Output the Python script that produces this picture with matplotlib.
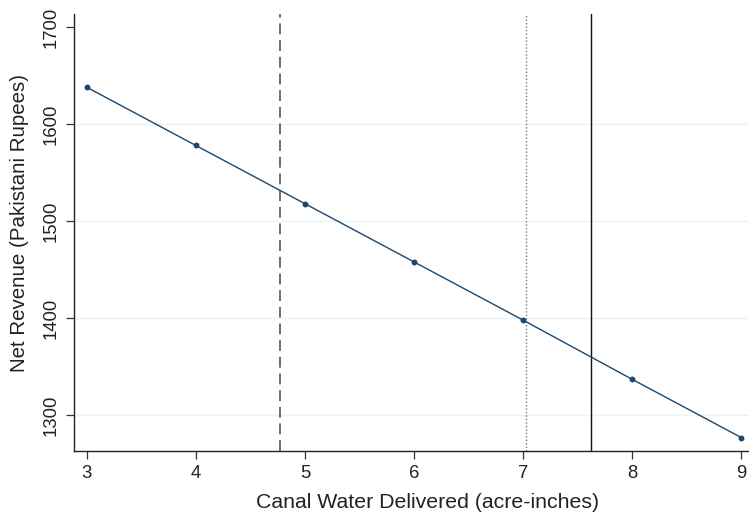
import matplotlib
matplotlib.use("Agg")
import matplotlib.pyplot as plt

plt.rcParams['font.family'] = ['Liberation Sans', 'DejaVu Sans']

water = [3, 4, 5, 6, 7, 8, 9]
revenue = [1638, 1578, 1518, 1458, 1398, 1337, 1277]
x_ticks = [3, 4, 5, 6, 7, 8, 9]
y_ticks = [1300, 1400, 1500, 1600, 1700]
grid_vals = [1300, 1400, 1500, 1600]
dashed_x = 4.77
dotted_x = 7.03
solid_x = 7.62

fig = plt.figure(figsize=(7.49, 5.15), dpi=100)
ax = fig.add_axes([74/749, 1-451/515, (749-74)/749, (451-14)/515])

for g in grid_vals:
    ax.axhline(g, color='#eaf2f3', lw=1.0, zorder=0)

ax.plot(water, revenue, color='#1a476f', lw=1.0, marker='o', ms=3.2, zorder=3)

ax.axvline(dashed_x, color='#555555', lw=1.2, ls=(0, (6.5, 3.5)), zorder=2)
ax.axvline(dotted_x, color='#777777', lw=1.0, ls=(0, (1, 1.5)), zorder=2)
ax.axvline(solid_x, color='#111111', lw=1.0, zorder=2)

ax.set_xlim(2.884, 9.07)
ax.set_ylim(1263.2, 1713.4)
ax.set_xticks(x_ticks)
ax.set_yticks(y_ticks)
ax.set_yticklabels([str(v) for v in y_ticks], rotation=90, va='center')
ax.tick_params(axis='both', labelsize=13.3, length=6, width=0.9, color='#333333', labelcolor='#222222', pad=4)

for s in ['top', 'right']:
    ax.spines[s].set_visible(False)
for s in ['left', 'bottom']:
    ax.spines[s].set_color('#222222')
    ax.spines[s].set_linewidth(1.0)

ax.set_xlabel('Canal Water Delivered (acre-inches)', fontsize=15.3, color='#222222', labelpad=8)
ax.set_ylabel('Net Revenue (Pakistani Rupees)', fontsize=14.8, color='#222222', labelpad=10)
ax.xaxis.label.set_x((428 - 74) / 675)
ax.yaxis.label.set_y((451 - 223.5) / 437)

fig.savefig('out.png', dpi=100)
